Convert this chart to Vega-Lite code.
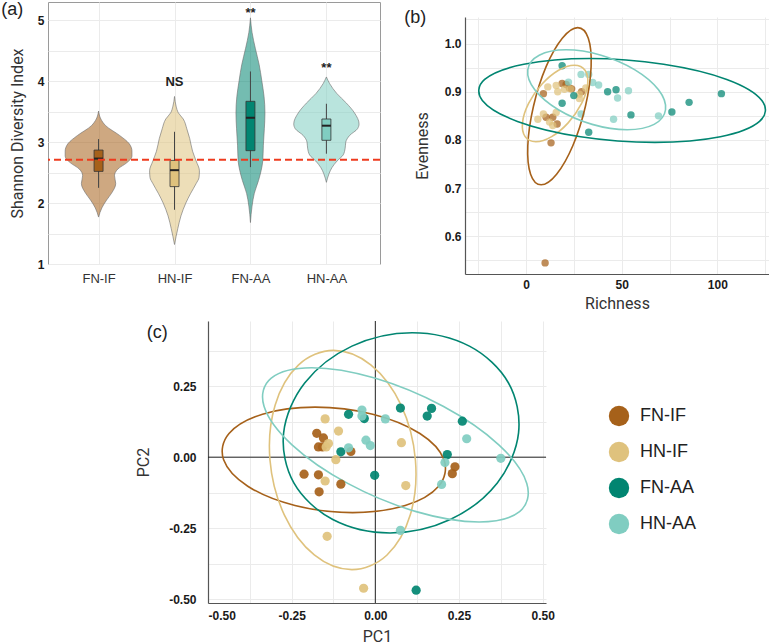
{
  "$schema": "https://vega.github.io/schema/vega-lite/v6.json",
  "padding": 0,
  "background": "white",
  "config": {
    "font": "Liberation Sans",
    "view": {"stroke": null},
    "axis": {"ticks": false, "grid": true, "gridColor": "#ebebeb", "gridWidth": 1, "labelOverlap": false, "tickCount": 100, "labelFont": "Liberation Sans", "labelFontWeight": "bold", "labelFontSize": 12, "labelColor": "#1a1a1a", "titleFont": "Roboto", "titleFontWeight": "normal", "titleFontSize": 16, "titleColor": "#333333", "domainColor": "#555555", "domainWidth": 1.2},
    "title": {"font": "Liberation Sans", "fontSize": 18, "fontWeight": "normal", "color": "#222222", "anchor": "start", "frame": "bounds", "offset": 0}
  },
  "datasets": {
    "violin": [
      {"g": "FN-IF", "y": 3.51, "w": 0}, {"g": "FN-IF", "y": 3.38, "w": 0.03}, {"g": "FN-IF", "y": 3.27, "w": 0.094}, {"g": "FN-IF", "y": 3.11, "w": 0.277}, {"g": "FN-IF", "y": 2.98, "w": 0.40}, {"g": "FN-IF", "y": 2.85, "w": 0.44}, {"g": "FN-IF", "y": 2.77, "w": 0.44}, {"g": "FN-IF", "y": 2.66, "w": 0.37}, {"g": "FN-IF", "y": 2.56, "w": 0.255}, {"g": "FN-IF", "y": 2.45, "w": 0.21}, {"g": "FN-IF", "y": 2.32, "w": 0.226}, {"g": "FN-IF", "y": 2.16, "w": 0.17}, {"g": "FN-IF", "y": 2.05, "w": 0.106}, {"g": "FN-IF", "y": 1.92, "w": 0.043}, {"g": "FN-IF", "y": 1.77, "w": 0},
      {"g": "HN-IF", "y": 3.75, "w": 0}, {"g": "HN-IF", "y": 3.59, "w": 0.021}, {"g": "HN-IF", "y": 3.48, "w": 0.051}, {"g": "HN-IF", "y": 3.38, "w": 0.115}, {"g": "HN-IF", "y": 3.22, "w": 0.162}, {"g": "HN-IF", "y": 3.06, "w": 0.20}, {"g": "HN-IF", "y": 2.85, "w": 0.238}, {"g": "HN-IF", "y": 2.69, "w": 0.285}, {"g": "HN-IF", "y": 2.53, "w": 0.328}, {"g": "HN-IF", "y": 2.42, "w": 0.323}, {"g": "HN-IF", "y": 2.32, "w": 0.285}, {"g": "HN-IF", "y": 2.16, "w": 0.213}, {"g": "HN-IF", "y": 2.0, "w": 0.149}, {"g": "HN-IF", "y": 1.79, "w": 0.085}, {"g": "HN-IF", "y": 1.58, "w": 0.043}, {"g": "HN-IF", "y": 1.32, "w": 0},
      {"g": "FN-AA", "y": 5.04, "w": 0}, {"g": "FN-AA", "y": 4.80, "w": 0.021}, {"g": "FN-AA", "y": 4.54, "w": 0.064}, {"g": "FN-AA", "y": 4.27, "w": 0.115}, {"g": "FN-AA", "y": 4.01, "w": 0.149}, {"g": "FN-AA", "y": 3.75, "w": 0.179}, {"g": "FN-AA", "y": 3.48, "w": 0.191}, {"g": "FN-AA", "y": 3.22, "w": 0.183}, {"g": "FN-AA", "y": 2.95, "w": 0.170}, {"g": "FN-AA", "y": 2.69, "w": 0.162}, {"g": "FN-AA", "y": 2.53, "w": 0.140}, {"g": "FN-AA", "y": 2.37, "w": 0.106}, {"g": "FN-AA", "y": 2.16, "w": 0.051}, {"g": "FN-AA", "y": 1.95, "w": 0.021}, {"g": "FN-AA", "y": 1.68, "w": 0},
      {"g": "HN-AA", "y": 4.07, "w": 0}, {"g": "HN-AA", "y": 3.96, "w": 0.043}, {"g": "HN-AA", "y": 3.80, "w": 0.136}, {"g": "HN-AA", "y": 3.64, "w": 0.264}, {"g": "HN-AA", "y": 3.48, "w": 0.37}, {"g": "HN-AA", "y": 3.30, "w": 0.43}, {"g": "HN-AA", "y": 3.22, "w": 0.41}, {"g": "HN-AA", "y": 3.11, "w": 0.306}, {"g": "HN-AA", "y": 3.0, "w": 0.255}, {"g": "HN-AA", "y": 2.90, "w": 0.247}, {"g": "HN-AA", "y": 2.79, "w": 0.221}, {"g": "HN-AA", "y": 2.69, "w": 0.14}, {"g": "HN-AA", "y": 2.58, "w": 0.072}, {"g": "HN-AA", "y": 2.48, "w": 0.034}, {"g": "HN-AA", "y": 2.34, "w": 0}
    ],
    "box": [
      {"g": "FN-IF", "lo": 2.25, "q1": 2.52, "med": 2.73, "q3": 2.87, "hi": 3.05},
      {"g": "HN-IF", "lo": 1.89, "q1": 2.27, "med": 2.54, "q3": 2.70, "hi": 3.17},
      {"g": "FN-AA", "lo": 2.59, "q1": 2.86, "med": 3.40, "q3": 3.67, "hi": 4.16},
      {"g": "HN-AA", "lo": 2.81, "q1": 3.03, "med": 3.27, "q3": 3.38, "hi": 3.63}
    ],
    "hline": [{"h": 2.71}],
    "ann": [
      {"x": 2, "y": 3.98, "t": "NS"},
      {"x": 3, "y": 5.12, "t": "**"},
      {"x": 4, "y": 4.22, "t": "**"}
    ],
    "groups": [{"g": "FN-IF"}, {"g": "HN-IF"}, {"g": "FN-AA"}, {"g": "HN-AA"}],
    "ptsB": [
      {"g": "FN-IF", "x": 9, "y": 0.896}, {"g": "FN-IF", "x": 18.8, "y": 0.917}, {"g": "FN-IF", "x": 20.9, "y": 0.915}, {"g": "FN-IF", "x": 22.6, "y": 0.908}, {"g": "FN-IF", "x": 23.8, "y": 0.906}, {"g": "FN-IF", "x": 29, "y": 0.90}, {"g": "FN-IF", "x": 10.4, "y": 0.847}, {"g": "FN-IF", "x": 13.9, "y": 0.847}, {"g": "FN-IF", "x": 16.2, "y": 0.833}, {"g": "FN-IF", "x": 13, "y": 0.794}, {"g": "FN-IF", "x": 9.9, "y": 0.545},
      {"g": "HN-IF", "x": 11.3, "y": 0.91}, {"g": "HN-IF", "x": 15.7, "y": 0.913}, {"g": "HN-IF", "x": 20, "y": 0.905}, {"g": "HN-IF", "x": 16.5, "y": 0.90}, {"g": "HN-IF", "x": 23, "y": 0.906}, {"g": "HN-IF", "x": 27.8, "y": 0.895}, {"g": "HN-IF", "x": 31.2, "y": 0.908}, {"g": "HN-IF", "x": 27.8, "y": 0.886}, {"g": "HN-IF", "x": 9, "y": 0.854}, {"g": "HN-IF", "x": 6.1, "y": 0.843}, {"g": "HN-IF", "x": 15.7, "y": 0.857}, {"g": "HN-IF", "x": 12.2, "y": 0.837}, {"g": "HN-IF", "x": 13.9, "y": 0.83},
      {"g": "FN-AA", "x": 18.8, "y": 0.954}, {"g": "FN-AA", "x": 24.9, "y": 0.892}, {"g": "FN-AA", "x": 18.8, "y": 0.876}, {"g": "FN-AA", "x": 42.6, "y": 0.90}, {"g": "FN-AA", "x": 47, "y": 0.904}, {"g": "FN-AA", "x": 32.7, "y": 0.816}, {"g": "FN-AA", "x": 54.8, "y": 0.852}, {"g": "FN-AA", "x": 76.2, "y": 0.858}, {"g": "FN-AA", "x": 85.2, "y": 0.878}, {"g": "FN-AA", "x": 102.1, "y": 0.896},
      {"g": "HN-AA", "x": 28.7, "y": 0.936}, {"g": "HN-AA", "x": 32.7, "y": 0.936}, {"g": "HN-AA", "x": 22.1, "y": 0.920}, {"g": "HN-AA", "x": 34.8, "y": 0.919}, {"g": "HN-AA", "x": 37.9, "y": 0.914}, {"g": "HN-AA", "x": 53.5, "y": 0.902}, {"g": "HN-AA", "x": 47.8, "y": 0.887}, {"g": "HN-AA", "x": 45.7, "y": 0.843}, {"g": "HN-AA", "x": 69.2, "y": 0.85}, {"g": "HN-AA", "x": 28.7, "y": 0.854}
    ],
    "ellB": [
      {"g": "FN-IF", "i": 0, "x": 26.97, "y": 1.033}, {"g": "FN-IF", "i": 1, "x": 32.49, "y": 1.011}, {"g": "FN-IF", "i": 2, "x": 33.96, "y": 0.952}, {"g": "FN-IF", "i": 3, "x": 30.99, "y": 0.870}, {"g": "FN-IF", "i": 4, "x": 24.38, "y": 0.788}, {"g": "FN-IF", "i": 5, "x": 15.91, "y": 0.729}, {"g": "FN-IF", "i": 6, "x": 7.83, "y": 0.707}, {"g": "FN-IF", "i": 7, "x": 2.31, "y": 0.729}, {"g": "FN-IF", "i": 8, "x": 0.84, "y": 0.788}, {"g": "FN-IF", "i": 9, "x": 3.81, "y": 0.870}, {"g": "FN-IF", "i": 10, "x": 10.42, "y": 0.952}, {"g": "FN-IF", "i": 11, "x": 18.89, "y": 1.011},
      {"g": "HN-IF", "i": 0, "x": 25.21, "y": 0.955}, {"g": "HN-IF", "i": 1, "x": 30.79, "y": 0.9445}, {"g": "HN-IF", "i": 2, "x": 32.16, "y": 0.9154}, {"g": "HN-IF", "i": 3, "x": 28.97, "y": 0.8757}, {"g": "HN-IF", "i": 4, "x": 22.06, "y": 0.836}, {"g": "HN-IF", "i": 5, "x": 13.31, "y": 0.8069}, {"g": "HN-IF", "i": 6, "x": 5.03, "y": 0.7963}, {"g": "HN-IF", "i": 7, "x": -0.55, "y": 0.8069}, {"g": "HN-IF", "i": 8, "x": -1.92, "y": 0.836}, {"g": "HN-IF", "i": 9, "x": 1.27, "y": 0.8757}, {"g": "HN-IF", "i": 10, "x": 8.18, "y": 0.9154}, {"g": "HN-IF", "i": 11, "x": 16.93, "y": 0.9445},
      {"g": "FN-AA", "i": 0, "x": 33.03, "y": 0.969}, {"g": "FN-AA", "i": 1, "x": 71.88, "y": 0.957}, {"g": "FN-AA", "i": 2, "x": 104.91, "y": 0.9255}, {"g": "FN-AA", "i": 3, "x": 123.27, "y": 0.882}, {"g": "FN-AA", "i": 4, "x": 122.05, "y": 0.8385}, {"g": "FN-AA", "i": 5, "x": 101.56, "y": 0.8067}, {"g": "FN-AA", "i": 6, "x": 67.31, "y": 0.795}, {"g": "FN-AA", "i": 7, "x": 28.46, "y": 0.8067}, {"g": "FN-AA", "i": 8, "x": -4.57, "y": 0.8385}, {"g": "FN-AA", "i": 9, "x": -22.93, "y": 0.882}, {"g": "FN-AA", "i": 10, "x": -21.71, "y": 0.9255}, {"g": "FN-AA", "i": 11, "x": -1.22, "y": 0.957},
      {"g": "HN-AA", "i": 0, "x": 20.86, "y": 0.987}, {"g": "HN-AA", "i": 1, "x": 39.18, "y": 0.9757}, {"g": "HN-AA", "i": 2, "x": 56.88, "y": 0.9454}, {"g": "HN-AA", "i": 3, "x": 69.22, "y": 0.904}, {"g": "HN-AA", "i": 4, "x": 72.88, "y": 0.8626}, {"g": "HN-AA", "i": 5, "x": 66.9, "y": 0.8323}, {"g": "HN-AA", "i": 6, "x": 52.86, "y": 0.8212}, {"g": "HN-AA", "i": 7, "x": 34.54, "y": 0.8323}, {"g": "HN-AA", "i": 8, "x": 16.84, "y": 0.8626}, {"g": "HN-AA", "i": 9, "x": 4.5, "y": 0.904}, {"g": "HN-AA", "i": 10, "x": 0.84, "y": 0.9454}, {"g": "HN-AA", "i": 11, "x": 6.82, "y": 0.9757}
    ],
    "ptsC": [
      {"g": "FN-IF", "x": -0.175, "y": 0.084}, {"g": "FN-IF", "x": -0.155, "y": 0.068}, {"g": "FN-IF", "x": -0.17, "y": 0.036}, {"g": "FN-IF", "x": -0.158, "y": 0.036}, {"g": "FN-IF", "x": -0.073, "y": 0.02}, {"g": "FN-IF", "x": -0.213, "y": -0.06}, {"g": "FN-IF", "x": -0.17, "y": -0.062}, {"g": "FN-IF", "x": -0.103, "y": -0.095}, {"g": "FN-IF", "x": -0.168, "y": -0.122}, {"g": "FN-IF", "x": 0.238, "y": -0.034}, {"g": "FN-IF", "x": 0.23, "y": -0.058},
      {"g": "HN-IF", "x": -0.15, "y": 0.135}, {"g": "HN-IF", "x": -0.11, "y": 0.092}, {"g": "HN-IF", "x": -0.14, "y": 0.048}, {"g": "HN-IF", "x": -0.147, "y": 0.036}, {"g": "HN-IF", "x": -0.118, "y": -0.009}, {"g": "HN-IF", "x": -0.15, "y": -0.084}, {"g": "HN-IF", "x": 0.078, "y": 0.051}, {"g": "HN-IF", "x": 0.091, "y": -0.1}, {"g": "HN-IF", "x": -0.144, "y": -0.279}, {"g": "HN-IF", "x": -0.035, "y": -0.462},
      {"g": "FN-AA", "x": -0.08, "y": 0.151}, {"g": "FN-AA", "x": -0.033, "y": 0.136}, {"g": "FN-AA", "x": 0.075, "y": 0.173}, {"g": "FN-AA", "x": 0.155, "y": 0.145}, {"g": "FN-AA", "x": 0.168, "y": 0.172}, {"g": "FN-AA", "x": 0.26, "y": 0.127}, {"g": "FN-AA", "x": -0.103, "y": 0.019}, {"g": "FN-AA", "x": 0.215, "y": 0.009}, {"g": "FN-AA", "x": -0.002, "y": -0.064}, {"g": "FN-AA", "x": 0.122, "y": -0.469},
      {"g": "HN-AA", "x": -0.04, "y": 0.166}, {"g": "HN-AA", "x": -0.04, "y": 0.145}, {"g": "HN-AA", "x": 0.03, "y": 0.135}, {"g": "HN-AA", "x": -0.028, "y": 0.06}, {"g": "HN-AA", "x": -0.015, "y": 0.041}, {"g": "HN-AA", "x": -0.08, "y": 0.033}, {"g": "HN-AA", "x": 0.273, "y": 0.065}, {"g": "HN-AA", "x": 0.375, "y": -0.004}, {"g": "HN-AA", "x": 0.208, "y": -0.019}, {"g": "HN-AA", "x": 0.198, "y": -0.096}, {"g": "HN-AA", "x": 0.075, "y": -0.258}
    ],
    "ellC": [
      {"g": "FN-IF", "i": 0, "x": -0.180, "y": 0.1765}, {"g": "FN-IF", "i": 1, "x": -0.0078, "y": 0.1516}, {"g": "FN-IF", "i": 2, "x": 0.1332, "y": 0.0836}, {"g": "FN-IF", "i": 3, "x": 0.2053, "y": -0.0094}, {"g": "FN-IF", "i": 4, "x": 0.1892, "y": -0.1024}, {"g": "FN-IF", "i": 5, "x": 0.0892, "y": -0.1704}, {"g": "FN-IF", "i": 6, "x": -0.068, "y": -0.1953}, {"g": "FN-IF", "i": 7, "x": -0.2402, "y": -0.1704}, {"g": "FN-IF", "i": 8, "x": -0.3812, "y": -0.1024}, {"g": "FN-IF", "i": 9, "x": -0.4533, "y": -0.0094}, {"g": "FN-IF", "i": 10, "x": -0.4372, "y": 0.0836}, {"g": "FN-IF", "i": 11, "x": -0.3372, "y": 0.1516},
      {"g": "HN-IF", "i": 0, "x": -0.125, "y": 0.3765}, {"g": "HN-IF", "i": 1, "x": -0.0126, "y": 0.3247}, {"g": "HN-IF", "i": 2, "x": 0.077, "y": 0.1833}, {"g": "HN-IF", "i": 3, "x": 0.1198, "y": -0.01}, {"g": "HN-IF", "i": 4, "x": 0.1045, "y": -0.2033}, {"g": "HN-IF", "i": 5, "x": 0.035, "y": -0.3447}, {"g": "HN-IF", "i": 6, "x": -0.07, "y": -0.3965}, {"g": "HN-IF", "i": 7, "x": -0.1824, "y": -0.3447}, {"g": "HN-IF", "i": 8, "x": -0.272, "y": -0.2033}, {"g": "HN-IF", "i": 9, "x": -0.3148, "y": -0.01}, {"g": "HN-IF", "i": 10, "x": -0.2995, "y": 0.1833}, {"g": "HN-IF", "i": 11, "x": -0.23, "y": 0.3247},
      {"g": "FN-AA", "i": 0, "x": 0.110, "y": 0.4388}, {"g": "FN-AA", "i": 1, "x": 0.2811, "y": 0.3915}, {"g": "FN-AA", "i": 2, "x": 0.3975, "y": 0.2624}, {"g": "FN-AA", "i": 3, "x": 0.428, "y": 0.0859}, {"g": "FN-AA", "i": 4, "x": 0.3645, "y": -0.0906}, {"g": "FN-AA", "i": 5, "x": 0.2239, "y": -0.2197}, {"g": "FN-AA", "i": 6, "x": 0.044, "y": -0.267}, {"g": "FN-AA", "i": 7, "x": -0.1271, "y": -0.2197}, {"g": "FN-AA", "i": 8, "x": -0.2435, "y": -0.0906}, {"g": "FN-AA", "i": 9, "x": -0.274, "y": 0.0859}, {"g": "FN-AA", "i": 10, "x": -0.2105, "y": 0.2624}, {"g": "FN-AA", "i": 11, "x": -0.0699, "y": 0.3915},
      {"g": "HN-AA", "i": 0, "x": -0.19, "y": 0.3153}, {"g": "HN-AA", "i": 1, "x": -0.002, "y": 0.2789}, {"g": "HN-AA", "i": 2, "x": 0.2026, "y": 0.1794}, {"g": "HN-AA", "i": 3, "x": 0.369, "y": 0.0435}, {"g": "HN-AA", "i": 4, "x": 0.4526, "y": -0.0924}, {"g": "HN-AA", "i": 5, "x": 0.431, "y": -0.1919}, {"g": "HN-AA", "i": 6, "x": 0.31, "y": -0.2283}, {"g": "HN-AA", "i": 7, "x": 0.122, "y": -0.1919}, {"g": "HN-AA", "i": 8, "x": -0.0826, "y": -0.0924}, {"g": "HN-AA", "i": 9, "x": -0.249, "y": 0.0435}, {"g": "HN-AA", "i": 10, "x": -0.3326, "y": 0.1794}, {"g": "HN-AA", "i": 11, "x": -0.311, "y": 0.2789}
    ],
    "zero": [{"z": 0}]
  },
  "resolve": {"scale": {"color": "independent", "stroke": "independent"}, "legend": {"color": "independent", "stroke": "independent"}},
  "spacing": 9,
  "vconcat": [
    {
      "hconcat": [
        {
          "width": 332,
          "height": 262,
          "view": {"stroke": "#9a9a9a", "strokeWidth": 1},
          "title": {"text": "(a)", "dy": 21, "dx": -8},
          "layer": [
            {
              "data": {"name": "violin"},
              "transform": [
                {"calculate": "indexof(['FN-IF','HN-IF','FN-AA','HN-AA'], datum.g) + 1", "as": "pos"},
                {"calculate": "datum.pos - datum.w", "as": "lo"},
                {"calculate": "datum.pos + datum.w", "as": "hi"}
              ],
              "mark": {"type": "area", "orient": "horizontal", "interpolate": "monotone", "fillOpacity": 0.55, "stroke": "#6b6b6b", "strokeWidth": 0.6},
              "encoding": {
                "y": {"field": "y", "type": "quantitative", "title": "Shannon Diversity Index", "scale": {"domain": [1, 5.3], "nice": false, "zero": false},
                  "axis": {"values": [1, 1.5, 2, 2.5, 3, 3.5, 4, 4.5, 5], "tickCount": 100, "labelExpr": "datum.value % 1 == 0 ? format(datum.value, 'd') : ''", "labelPadding": 4, "titlePadding": 12, "domain": false}},
                "x": {"field": "lo", "type": "quantitative", "title": null, "scale": {"domain": [0.4, 4.64], "nice": false, "zero": false},
                  "axis": {"values": [1, 2, 3, 4], "tickCount": 100, "labelExpr": "['','FN-IF','HN-IF','FN-AA','HN-AA'][datum.value]", "labelFontWeight": "normal", "labelFontSize": 13, "labelColor": "#333333", "labelPadding": 8, "domain": false}},
                "x2": {"field": "hi"},
                "color": {"field": "g", "type": "nominal", "scale": {"domain": ["FN-IF", "HN-IF", "FN-AA", "HN-AA"], "range": ["#a6611a", "#dfc27d", "#018571", "#80cdc1"]}, "legend": null}
              }
            },
            {
              "data": {"name": "box"},
              "transform": [{"calculate": "indexof(['FN-IF','HN-IF','FN-AA','HN-AA'], datum.g) + 1", "as": "pos"}],
              "mark": {"type": "rule", "color": "#444444", "strokeWidth": 1},
              "encoding": {
                "x": {"field": "pos", "type": "quantitative", "title": null},
                "y": {"field": "lo", "type": "quantitative", "title": "Shannon Diversity Index"},
                "y2": {"field": "hi"}
              }
            },
            {
              "data": {"name": "box"},
              "transform": [{"calculate": "indexof(['FN-IF','HN-IF','FN-AA','HN-AA'], datum.g) + 1", "as": "pos"}],
              "mark": {"type": "bar", "width": 9, "stroke": "#333333", "strokeWidth": 0.8},
              "encoding": {
                "x": {"field": "pos", "type": "quantitative", "title": null},
                "y": {"field": "q1", "type": "quantitative", "title": "Shannon Diversity Index"},
                "y2": {"field": "q3"},
                "color": {"field": "g", "type": "nominal", "scale": {"domain": ["FN-IF", "HN-IF", "FN-AA", "HN-AA"], "range": ["#a6611a", "#dfc27d", "#018571", "#80cdc1"]}, "legend": null}
              }
            },
            {
              "data": {"name": "box"},
              "transform": [{"calculate": "indexof(['FN-IF','HN-IF','FN-AA','HN-AA'], datum.g) + 1", "as": "pos"}],
              "mark": {"type": "tick", "orient": "horizontal", "size": 9, "thickness": 2, "color": "#222222", "opacity": 1},
              "encoding": {
                "x": {"field": "pos", "type": "quantitative", "title": null},
                "y": {"field": "med", "type": "quantitative", "title": "Shannon Diversity Index"}
              }
            },
            {
              "data": {"name": "hline"},
              "mark": {"type": "rule", "color": "#ee3b1e", "strokeWidth": 2, "strokeDash": [7, 4]},
              "encoding": {"y": {"field": "h", "type": "quantitative", "title": "Shannon Diversity Index"}}
            },
            {
              "data": {"name": "ann"},
              "mark": {"type": "text", "fontWeight": "bold", "fontSize": 13, "color": "#222222", "font": "Liberation Sans"},
              "encoding": {
                "x": {"field": "x", "type": "quantitative", "title": null},
                "y": {"field": "y", "type": "quantitative", "title": "Shannon Diversity Index"},
                "text": {"field": "t"}
              }
            }
          ]
        },
        {
          "vconcat": [
            {
              "width": 10,
              "height": 4,
              "data": {"values": []},
              "mark": {"type": "text", "text": ""}
            },
            {
              "width": 304,
              "height": 257,
              "title": {"text": "(b)", "dx": -10, "dy": 18},
              "layer": [
                {
                  "data": {"name": "ptsB"},
                  "mark": {"type": "circle", "size": 55, "opacity": 0.72},
                  "encoding": {
                    "x": {"field": "x", "type": "quantitative", "title": "Richness", "scale": {"domain": [-32, 127], "nice": false, "zero": false},
                      "axis": {"values": [-25, 0, 25, 50, 75, 100, 125], "tickCount": 100, "labelExpr": "datum.value % 50 == 0 ? format(datum.value, 'd') : ''", "labelPadding": 5, "titlePadding": 5}},
                    "y": {"field": "y", "type": "quantitative", "title": "Evenness", "scale": {"domain": [0.522, 1.055], "nice": false, "zero": false},
                      "axis": {"values": [0.55, 0.6, 0.65, 0.7, 0.75, 0.8, 0.85, 0.9, 0.95, 1.0, 1.05], "tickCount": 100, "labelExpr": "abs(datum.value * 10 - round(datum.value * 10)) < 0.001 ? format(datum.value, '.1f') : ''", "labelPadding": 4, "titlePadding": 14}},
                    "color": {"field": "g", "type": "nominal", "scale": {"domain": ["FN-IF", "HN-IF", "FN-AA", "HN-AA"], "range": ["#a6611a", "#dfc27d", "#018571", "#80cdc1"]}, "legend": null}
                  }
                },
                {
                  "data": {"name": "ellB"},
                  "mark": {"type": "line", "interpolate": "cardinal-closed", "strokeWidth": 1.6},
                  "encoding": {
                    "x": {"field": "x", "type": "quantitative", "title": "Richness"},
                    "y": {"field": "y", "type": "quantitative", "title": "Evenness"},
                    "order": {"field": "i", "type": "quantitative"},
                    "stroke": {"field": "g", "type": "nominal", "scale": {"domain": ["FN-IF", "HN-IF", "FN-AA", "HN-AA"], "range": ["#a6611a", "#dfc27d", "#018571", "#80cdc1"]}, "legend": null}
                  }
                }
              ]
            }
          ],
          "spacing": 3,
          "resolve": {"scale": {"color": "independent", "stroke": "independent"}, "legend": {"color": "independent", "stroke": "independent"}}
        }
      ],
      "spacing": 22,
      "resolve": {"scale": {"color": "independent", "stroke": "independent"}, "legend": {"color": "independent", "stroke": "independent"}}
    },
    {
      "hconcat": [
        {
          "width": 87,
          "height": 10,
          "data": {"values": []},
          "mark": {"type": "text", "text": ""}
        },
        {
          "width": 338,
          "height": 282,
          "title": {"text": "(c)", "dy": 25, "dx": 11},
          "layer": [
            {
              "data": {"name": "zero"},
              "mark": {"type": "rule", "color": "#222222", "strokeWidth": 1},
              "encoding": {"x": {"field": "z", "type": "quantitative", "title": "PC1", "scale": {"domain": [-0.5, 0.51], "nice": false, "zero": false},
                "axis": {"values": [-0.5, -0.375, -0.25, -0.125, 0, 0.125, 0.25, 0.375, 0.5], "tickCount": 100, "labelExpr": "abs(datum.value * 4 - round(datum.value * 4)) < 0.001 ? replace(format(datum.value, '.2f'), '\u2212', '-') : ''", "labelPadding": 7, "titlePadding": 7}}}
            },
            {
              "data": {"name": "zero"},
              "mark": {"type": "rule", "color": "#222222", "strokeWidth": 1},
              "encoding": {"y": {"field": "z", "type": "quantitative", "title": "PC2", "scale": {"domain": [-0.514, 0.48], "nice": false, "zero": false},
                "axis": {"values": [-0.5, -0.375, -0.25, -0.125, 0, 0.125, 0.25, 0.375], "tickCount": 100, "labelExpr": "abs(datum.value * 4 - round(datum.value * 4)) < 0.001 ? replace(format(datum.value, '.2f'), '\u2212', '-') : ''", "labelPadding": 12, "titlePadding": 17}}}
            },
            {
              "data": {"name": "ellC"},
              "mark": {"type": "line", "interpolate": "cardinal-closed", "strokeWidth": 1.6},
              "encoding": {
                "x": {"field": "x", "type": "quantitative", "title": "PC1"},
                "y": {"field": "y", "type": "quantitative", "title": "PC2"},
                "order": {"field": "i", "type": "quantitative"},
                "stroke": {"field": "g", "type": "nominal", "scale": {"domain": ["FN-IF", "HN-IF", "FN-AA", "HN-AA"], "range": ["#a6611a", "#dfc27d", "#018571", "#80cdc1"]}, "legend": null}
              }
            },
            {
              "data": {"name": "ptsC"},
              "mark": {"type": "circle", "size": 85, "opacity": 0.92},
              "encoding": {
                "x": {"field": "x", "type": "quantitative", "title": "PC1"},
                "y": {"field": "y", "type": "quantitative", "title": "PC2"},
                "color": {"field": "g", "type": "nominal", "scale": {"domain": ["FN-IF", "HN-IF", "FN-AA", "HN-AA"], "range": ["#a6611a", "#dfc27d", "#018571", "#80cdc1"]}, "legend": null}
              }
            }
          ]
        },
        {
          "width": 128,
          "height": 298,
          "data": {"name": "groups"},
          "transform": [{"calculate": "indexof(['FN-IF','HN-IF','FN-AA','HN-AA'], datum.g)", "as": "k"}],
          "layer": [
            {
              "mark": {"type": "circle", "size": 415, "opacity": 1},
              "encoding": {
                "y": {"field": "k", "type": "quantitative", "scale": {"domain": [-2.64, 5.64], "reverse": true, "nice": false, "zero": false}, "axis": null},
                "color": {"field": "g", "type": "nominal", "scale": {"domain": ["FN-IF", "HN-IF", "FN-AA", "HN-AA"], "range": ["#a6611a", "#dfc27d", "#018571", "#80cdc1"]}, "legend": null}
              }
            },
            {
              "mark": {"type": "text", "align": "left", "baseline": "middle", "dx": 21, "fontSize": 18, "font": "Liberation Sans", "color": "#222222"},
              "encoding": {
                "y": {"field": "k", "type": "quantitative", "axis": null},
                "text": {"field": "g"}
              }
            }
          ]
        }
      ],
      "spacing": 0,
      "resolve": {"scale": {"color": "independent", "stroke": "independent"}, "legend": {"color": "independent", "stroke": "independent"}}
    }
  ]
}
